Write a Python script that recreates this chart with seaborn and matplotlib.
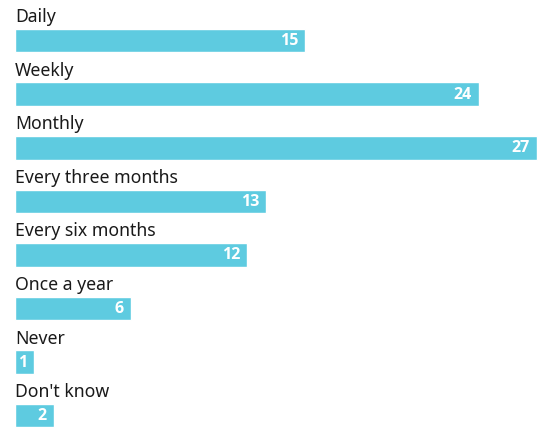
import matplotlib
matplotlib.use("Agg")
import matplotlib.pyplot as plt
import seaborn as sns
import pandas as pd

categories = ["Daily", "Weekly", "Monthly", "Every three months",
              "Every six months", "Once a year", "Never", "Don't know"]
values = [15, 24, 27, 13, 12, 6, 1, 2]

df = pd.DataFrame({"category": categories, "value": values})

sns.set_theme(style="white")
plt.rcParams["font.family"] = ["Noto Sans", "DejaVu Sans"]

fig = plt.figure(figsize=(5.49, 4.30), dpi=100)
ax = fig.add_axes([0, 0, 1, 1])

bar_color = "#5ecbe0"
sns.barplot(data=df, x="value", y="category", orient="h", color=bar_color,
            width=0.44, saturation=1, ax=ax)

px_per_unit = 19.33
ax.set_xlim(-15 / px_per_unit, (549 - 15) / px_per_unit)
ax.set_ylim(7.267, -0.756)

for i, (c, v) in enumerate(zip(categories, values)):
    ax.text(0, i - 0.345, c, ha="left", va="baseline", fontsize=12.7,
            color="#1a1a1a")
    ax.text(v - 7 / px_per_unit, i + 0.01, str(v), ha="right", va="center",
            fontsize=11.5, color="white", fontweight="bold",
            family=["Open Sans", "Lato", "DejaVu Sans"])

ax.set_axis_off()
fig.savefig("out.png", dpi=100)
